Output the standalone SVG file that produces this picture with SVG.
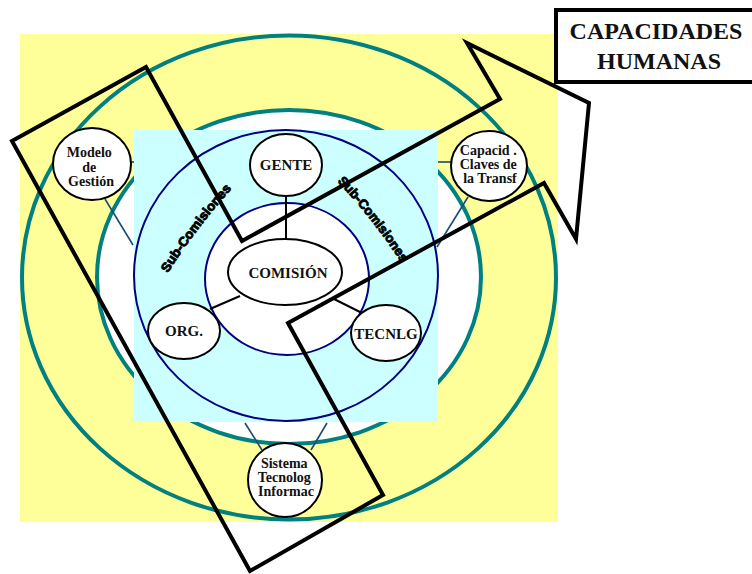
<svg xmlns="http://www.w3.org/2000/svg" width="752" height="574" viewBox="0 0 752 574">
  <style>
    .teal { fill: none; stroke: #008080; stroke-width: 4; }
    .navy { fill: none; stroke: #000080; stroke-width: 2; }
    .node { fill: #ffffff; stroke: #000000; stroke-width: 2; }
    .lbl { font-family: "Liberation Serif", "Times New Roman", serif; font-weight: bold; font-size: 15px; fill: #111111; text-anchor: middle; }
    .lbl3 { font-family: "Liberation Serif", "Times New Roman", serif; font-weight: bold; font-size: 14px; fill: #111111; text-anchor: middle; }
    .link { stroke: #1a4a7a; stroke-width: 1.6; fill: none; }
    .core { stroke: #000000; stroke-width: 2; fill: none; }
    .sub { font-family: "Liberation Sans", Arial, sans-serif; font-weight: bold; font-size: 13px; fill: #000000; stroke: #000000; stroke-width: 0.9; }
    .title { font-family: "Liberation Serif", "Times New Roman", serif; font-weight: bold; font-size: 24px; fill: #111111; text-anchor: middle; }
  </style>
  <defs>
    <path id="arcLeft" d="M167.7,273.2 Q196.8,227 233.3,187"/>
    <path id="arcRight" d="M337.3,181.4 Q373.7,219.7 402.3,264.2"/>
  </defs>

  <!-- background rings -->
  <g id="background">
    <rect x="20" y="34" width="538" height="488" fill="#ffff99"/>
    <ellipse cx="289" cy="277.5" rx="267" ry="242" class="teal"/>
    <ellipse cx="289" cy="277" rx="192" ry="167" fill="#ffffff" stroke="#008080" stroke-width="4"/>
    <rect x="134" y="130" width="304" height="292" fill="#ccffff"/>
    <ellipse cx="286" cy="275.5" rx="152" ry="145.5" class="navy"/>
    <ellipse cx="287" cy="279" rx="82" ry="76" fill="#ffffff" stroke="#000080" stroke-width="2"/>
  </g>

  <!-- connectors -->
  <g id="connectors">
    <line x1="286" y1="196" x2="286" y2="239" class="core"/>
    <line x1="240" y1="296" x2="210" y2="309" class="core"/>
    <line x1="332" y1="298" x2="362" y2="313" class="core"/>
    <line x1="131" y1="162" x2="134" y2="162" class="link"/>
    <line x1="105" y1="199" x2="133" y2="245" class="link"/>
    <line x1="438" y1="162" x2="451" y2="162" class="link"/>
    <line x1="468" y1="197" x2="437" y2="247" class="link"/>
    <line x1="245" y1="423" x2="262" y2="450" class="link"/>
    <line x1="327" y1="423" x2="311" y2="450" class="link"/>
  </g>

  <!-- bent arrow frame -->
  <g id="arrow-frame">
    <polygon points="12,141 146,67 242,241 500,99 467,43 589,103 576,239 544,183 288,323 383,495 250,571" fill="none" stroke="#000000" stroke-width="4" stroke-linejoin="miter"/>
  </g>

  <!-- curved ring labels -->
  <g id="ring-labels">
    <text class="sub"><textPath href="#arcLeft" textLength="106" lengthAdjust="spacingAndGlyphs">Sub-Comisiones</textPath></text>
    <text class="sub"><textPath href="#arcRight" textLength="104" lengthAdjust="spacingAndGlyphs">Sub-Comisiones</textPath></text>
  </g>

  <g id="gente">
    <ellipse cx="286" cy="165" rx="36" ry="31" class="node"/>
    <text x="286" y="170" class="lbl">GENTE</text>
  </g>
  <g id="comision">
    <ellipse cx="285" cy="272" rx="57" ry="33" class="node"/>
    <text x="288" y="278" class="lbl">COMISIÓN</text>
  </g>
  <g id="org">
    <ellipse cx="184" cy="331" rx="36" ry="28" class="node"/>
    <text x="184" y="336" class="lbl">ORG.</text>
  </g>
  <g id="tecnlg">
    <ellipse cx="386" cy="333" rx="35" ry="28" class="node"/>
    <text x="386" y="339" class="lbl">TECNLG</text>
  </g>
  <g id="modelo-gestion">
    <ellipse cx="92" cy="164" rx="39" ry="36" class="node"/>
    <text class="lbl3">
      <tspan x="91" y="157">Modelo</tspan>
      <tspan x="91" y="171.5">de</tspan>
      <tspan x="91" y="185.5">Gestión</tspan>
    </text>
  </g>
  <g id="capacid-claves">
    <ellipse cx="489" cy="166" rx="38" ry="35" class="node"/>
    <text class="lbl3">
      <tspan x="490" y="155">Capacid .</tspan>
      <tspan x="490" y="169">Claves de</tspan>
      <tspan x="490" y="183">la Transf</tspan>
    </text>
  </g>
  <g id="sistema-tecnolog">
    <ellipse cx="285" cy="480" rx="37" ry="37" class="node"/>
    <text class="lbl3">
      <tspan x="286" y="468">Sistema</tspan>
      <tspan x="286" y="482">Tecnolog</tspan>
      <tspan x="286" y="496">Informac</tspan>
    </text>
  </g>

  <g id="capacidades-humanas">
    <rect x="556" y="10" width="210" height="72" fill="#ffffff" stroke="#000000" stroke-width="4"/>
    <text class="title">
      <tspan x="659" y="39">CAPACIDADES</tspan>
      <tspan x="659" y="69">HUMANAS</tspan>
    </text>
  </g>
</svg>
